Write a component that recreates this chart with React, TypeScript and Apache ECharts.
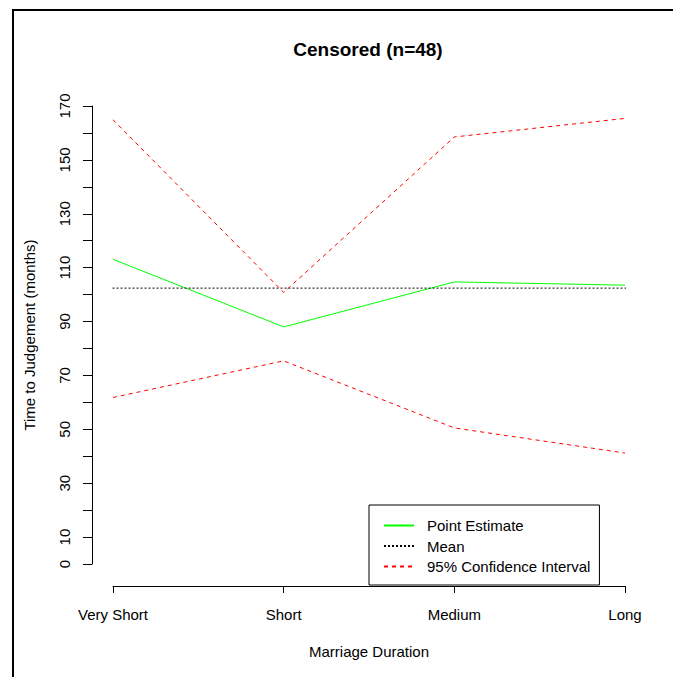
import React, { useEffect, useRef } from "react";
import * as echarts from "echarts";

const categories = ["Very Short", "Short", "Medium", "Long"];
const categoryX = [1, 2, 3, 4];
const pointEstimate = [113.1, 88.0, 104.7, 103.5];
const meanValue = 102.4;
const upperCI = [164.9, 100.8, 158.5, 165.4];
const lowerCI = [61.8, 75.4, 50.5, 41.2];
const yTickLabels = [0, 10, 30, 50, 70, 90, 110, 130, 150, 170];

const FONT = "'Liberation Sans', Arial, sans-serif";
const GREEN = "#00ff00";
const RED = "#ff0000";
const BLACK = "#000000";

export default function App() {
  const ref = useRef<HTMLDivElement>(null);

  useEffect(() => {
    if (!ref.current) return;
    const chart = echarts.init(ref.current, undefined, { renderer: "svg" });
    // R pads the x range by 4% on each side; the mean line spans that padded range
    const xPad = (categoryX[categoryX.length - 1] - categoryX[0]) * 0.04;
    const meanX = [categoryX[0] - xPad, categoryX[categoryX.length - 1] + xPad];

    const toPairs = (ys: number[]) => ys.map((y, i) => [categoryX[i], y]);

    chart.setOption({
      animation: false,
      backgroundColor: "#ffffff",
      title: {
        text: "Censored (n=48)",
        left: 368,
        top: 40,
        textAlign: "center",
        padding: 0,
        textStyle: { fontFamily: FONT, fontSize: 19, fontWeight: "bold", color: BLACK },
      },
      grid: { left: 113, right: 48, top: 106, bottom: 113, containLabel: false },
      xAxis: {
        type: "value",
        min: 1,
        max: 4,
        interval: 1,
        offset: 22,
        name: "Marriage Duration",
        nameLocation: "middle",
        nameGap: 58,
        nameTextStyle: { fontFamily: FONT, fontSize: 15, color: BLACK },
        axisLine: { show: true, onZero: false, lineStyle: { color: BLACK, width: 1 } },
        axisTick: { show: true, length: 7, lineStyle: { color: BLACK } },
        axisLabel: {
          margin: 21,
          fontFamily: FONT,
          fontSize: 15,
          color: BLACK,
          formatter: (v: number) => {
            const i = categoryX.indexOf(v);
            return i >= 0 ? categories[i] : "";
          },
        },
        splitLine: { show: false },
      },
      yAxis: {
        type: "value",
        min: 0,
        max: 170,
        interval: 10,
        offset: 21,
        name: "Time to Judgement (months)",
        nameLocation: "middle",
        nameGap: 55,
        nameTextStyle: { fontFamily: FONT, fontSize: 15, color: BLACK },
        axisLine: { show: true, onZero: false, lineStyle: { color: BLACK, width: 1 } },
        axisTick: { show: true, length: 9, lineStyle: { color: BLACK } },
        axisLabel: {
          rotate: 90,
          margin: 20,
          fontFamily: FONT,
          fontSize: 15,
          color: BLACK,
          formatter: (v: number) => (yTickLabels.indexOf(v) >= 0 ? String(v) : ""),
        },
        splitLine: { show: false },
      },
      legend: {
        orient: "vertical",
        left: 369,
        top: 505,
        padding: [13, 9, 11, 14],
        borderColor: BLACK,
        borderWidth: 1,
        borderRadius: 0,
        itemWidth: 30,
        itemHeight: 14,
        itemGap: 5.5,
        itemStyle: { opacity: 0 },
        data: ["Point Estimate", "Mean", "95% Confidence Interval"],
        textStyle: { fontFamily: FONT, fontSize: 15, color: BLACK, padding: [0, 0, 0, 8] },
        selectedMode: false,
      },
      graphic: [
        {
          type: "polyline",
          shape: { points: [[13, 677], [13, 10], [673, 10]] },
          style: { stroke: BLACK, lineWidth: 2, fill: null },
          silent: true,
        },
      ],
      series: [
        {
          name: "Point Estimate",
          type: "line",
          data: toPairs(pointEstimate),
          symbol: "none",
          clip: false,
          lineStyle: { color: GREEN, width: 1 },
          itemStyle: { color: GREEN },
        },
        {
          name: "Mean",
          type: "line",
          data: meanX.map((x) => [x, meanValue]),
          symbol: "none",
          clip: false,
          lineStyle: { color: BLACK, width: 1, type: [2, 2] },
          itemStyle: { color: BLACK },
        },
        {
          name: "95% Confidence Interval",
          type: "line",
          data: toPairs(upperCI),
          symbol: "none",
          clip: false,
          lineStyle: { color: RED, width: 1, type: [4, 4] },
          itemStyle: { color: RED },
        },
        {
          name: "95% Confidence Interval",
          type: "line",
          data: toPairs(lowerCI),
          symbol: "none",
          clip: false,
          lineStyle: { color: RED, width: 1, type: [4, 4] },
          itemStyle: { color: RED },
        },
      ],
    });
    return () => chart.dispose();
  }, []);

  return (
    <div
      ref={ref}
      style={{ position: "fixed", left: 0, top: 0, width: 673, height: 677, background: "#fff" }}
    />
  );
}
